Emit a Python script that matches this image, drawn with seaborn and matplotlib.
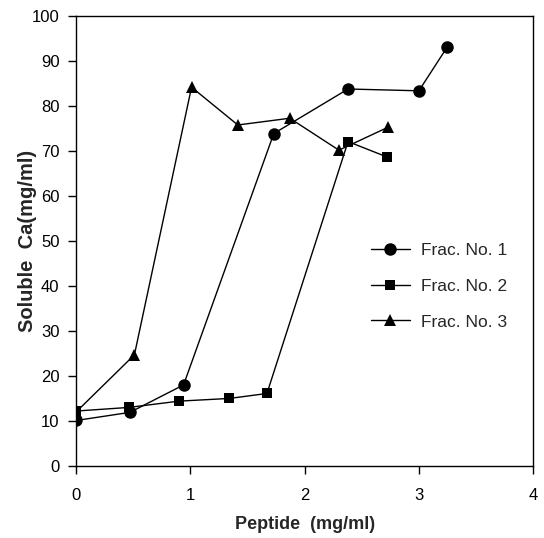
import matplotlib
matplotlib.use("Agg")
import matplotlib.pyplot as plt
import seaborn as sns
import pandas as pd

frac1_x = [0.0, 0.47, 0.94, 1.73, 2.38, 3.0, 3.25]
frac1_y = [10.1, 11.9, 18.0, 73.9, 83.8, 83.4, 93.2]
frac2_x = [0.0, 0.46, 0.90, 1.34, 1.67, 2.38, 2.72]
frac2_y = [12.2, 13.0, 14.4, 15.0, 16.1, 72.1, 68.7]
frac3_x = [0.0, 0.51, 1.01, 1.415, 1.87, 2.30, 2.73]
frac3_y = [12.0, 24.7, 84.2, 75.8, 77.3, 70.2, 75.3]
labels = ["Frac. No. 1", "Frac. No. 2", "Frac. No. 3"]
xticks = [0, 1, 2, 3, 4]
yticks = list(range(0, 101, 10))

df = pd.concat([
    pd.DataFrame({"x": frac1_x, "y": frac1_y, "s": labels[0]}),
    pd.DataFrame({"x": frac2_x, "y": frac2_y, "s": labels[1]}),
    pd.DataFrame({"x": frac3_x, "y": frac3_y, "s": labels[2]}),
], ignore_index=True)

sns.set_style("ticks")
plt.rcParams["font.family"] = ["Liberation Sans", "DejaVu Sans"]

fig = plt.figure(figsize=(5.44, 5.38), dpi=100)
ax = fig.add_axes([0.140, 0.134, 0.840, 0.836])

sns.lineplot(data=df, x="x", y="y", hue="s", style="s",
             markers={labels[0]: "o", labels[1]: "s", labels[2]: "^"},
             dashes=False, palette=["black"] * 3, sort=False,
             linewidth=1.0, markersize=9, markeredgewidth=0,
             estimator=None, ax=ax)

for line in ax.lines:
    m = line.get_marker()
    if m == "s":
        line.set_markersize(7.5)
    elif m == "^":
        line.set_markersize(8.5)

ax.set_xlim(0, 4)
ax.set_ylim(0, 100)
ax.set_xticks(xticks)
ax.set_yticks(yticks)
ax.tick_params(axis="both", direction="out", length=6, width=1,
               labelsize=12, color="black", labelcolor="black", pad=6)
ax.tick_params(axis="x", pad=10)
for sp in ax.spines.values():
    sp.set_visible(True)
    sp.set_color("black")
    sp.set_linewidth(1.0)

ax.set_xlabel("Peptide  (mg/ml)", fontsize=13, fontweight="bold", labelpad=9)
ax.set_ylabel("Soluble  Ca(mg/ml)", fontsize=14.5, fontweight="bold", labelpad=-4)

leg = ax.legend(loc="center left", bbox_to_anchor=(0.61, 0.40), frameon=False,
                fontsize=12.5, handlelength=2.3, labelspacing=1.2, handletextpad=0.6,
                title=None)

fig.savefig("out.png", dpi=100)
